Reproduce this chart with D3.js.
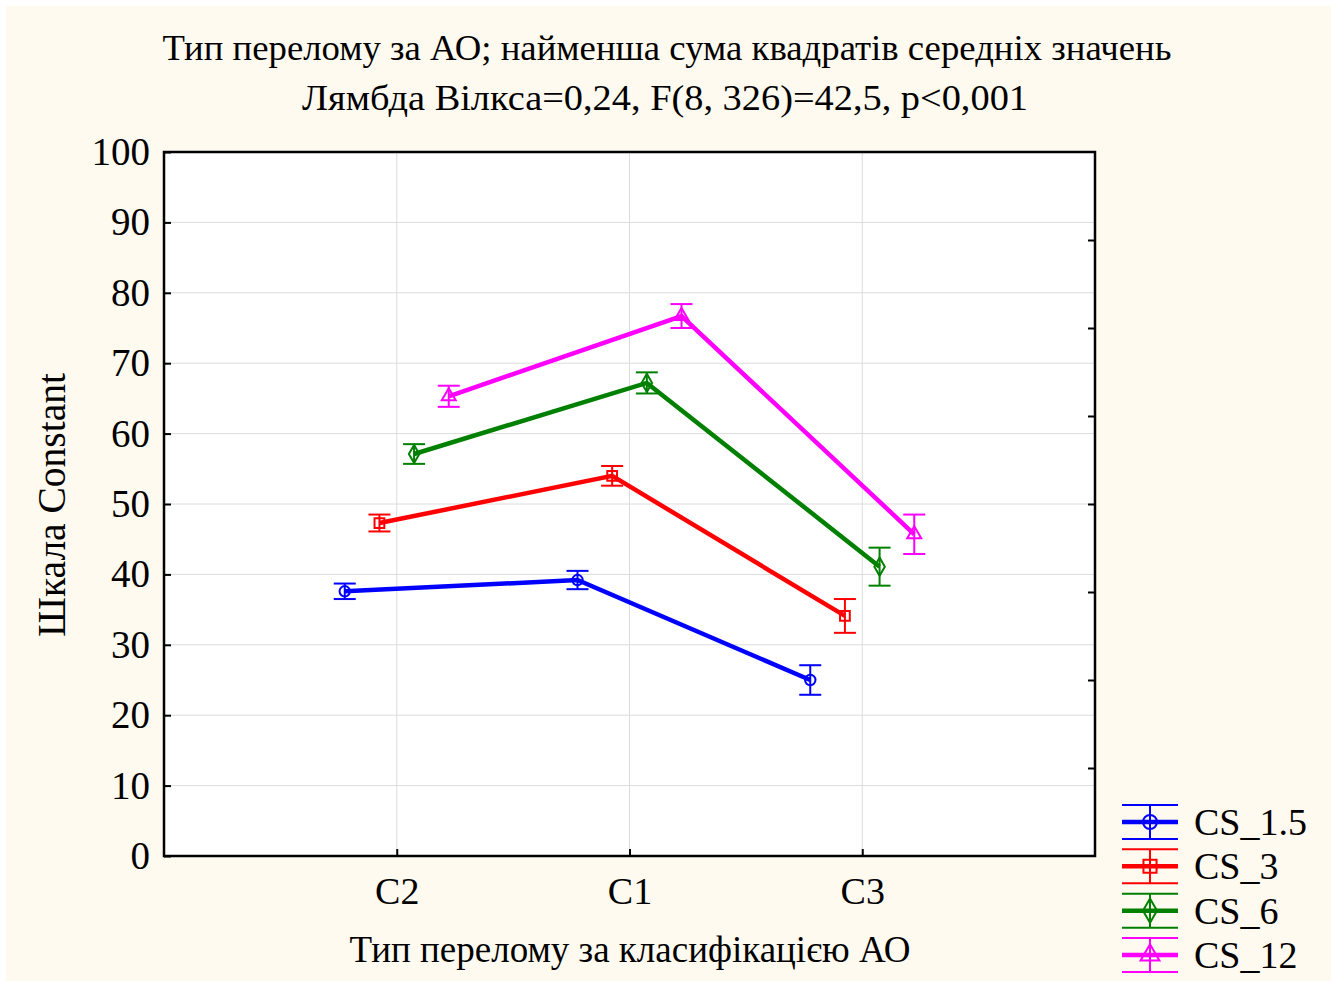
<!DOCTYPE html>
<html><head><meta charset="utf-8">
<script src="https://cdn.jsdelivr.net/npm/d3@7"></script>
<style>body{margin:0;background:#fff}svg{display:block}</style>
</head><body>
<script>
const categories = ["C2", "C1", "C3"];
const seriesNames = ["CS_1.5", "CS_3", "CS_6", "CS_12"];
const seriesColors = ["#0000ff", "#ff0000", "#008000", "#ff00ff"];
const seriesSymbols = ["circle", "square", "diamond", "triangle"];
const means = [
  [37.6, 39.2, 25.0],
  [47.3, 54.0, 34.1],
  [57.1, 67.2, 41.1],
  [65.3, 76.7, 45.7]
];
const errors = [
  [1.1, 1.3, 2.1],
  [1.2, 1.4, 2.4],
  [1.4, 1.5, 2.7],
  [1.5, 1.7, 2.8]
];
const yTicks = [0, 10, 20, 30, 40, 50, 60, 70, 80, 90, 100];
const rightTicks = [12.5, 25, 37.5, 50, 62.5, 75, 87.5];
const title1 = "Тип перелому за АО; найменша сума квадратів середніх значень";
const title2 = "Лямбда Вілкса=0,24, F(8, 326)=42,5, p<0,001";
const xTitle = "Тип перелому за класифікацією АО";
const yTitle = "Шкала Constant";

const W = 1331, H = 981;
const L = 164, T = 152, R = 1095, B = 856;
const font = "'Liberation Serif','Times New Roman',serif";

const svg = d3.select("body").append("svg").attr("width", W).attr("height", H);
svg.append("rect").attr("x", 6).attr("y", 6).attr("width", W - 6).attr("height", H - 6).attr("fill", "#fefaef");
svg.append("rect").attr("x", L).attr("y", T).attr("width", R - L).attr("height", B - T).attr("fill", "#fff");

const y = d3.scaleLinear().domain([0, 100]).range([B, T]);
const x = d3.scalePoint().domain(["", ...categories, " "]).range([L, R]);
const off = d3.scalePoint().domain(seriesNames).range([-52, 52]);

// grid
svg.append("g").selectAll("line").data(yTicks.slice(1, -1)).join("line")
  .attr("x1", L).attr("x2", R).attr("y1", d => y(d)).attr("y2", d => y(d))
  .attr("stroke", "#dcdcdc").attr("stroke-width", 1);
svg.append("g").selectAll("line").data(categories).join("line")
  .attr("x1", d => x(d)).attr("x2", d => x(d)).attr("y1", T).attr("y2", B)
  .attr("stroke", "#dcdcdc").attr("stroke-width", 1);

// left axis
const yAxis = d3.axisLeft(y).tickValues(yTicks).tickSize(-7).tickPadding(14).tickFormat(d3.format("d"));
const gy = svg.append("g").attr("transform", `translate(${L},0)`).call(yAxis);
gy.select(".domain").remove();
gy.selectAll(".tick line").attr("stroke", "#000").attr("stroke-width", 2);
gy.selectAll(".tick text").attr("font-family", font).attr("font-size", 39).attr("fill", "#000").attr("x", -14);

// right axis ticks
const gr = svg.append("g").attr("transform", `translate(${R},0)`)
  .call(d3.axisRight(y).tickValues(rightTicks).tickSize(-7).tickFormat(""));
gr.select(".domain").remove();
gr.selectAll(".tick line").attr("stroke", "#000").attr("stroke-width", 2);

// bottom axis
const gx = svg.append("g").attr("transform", `translate(0,${B})`)
  .call(d3.axisBottom(x).tickValues(categories).tickSize(-7).tickPadding(21));
gx.select(".domain").remove();
gx.selectAll(".tick line").attr("stroke", "#000").attr("stroke-width", 2);
gx.selectAll(".tick text").attr("font-family", font).attr("font-size", 38).attr("fill", "#000");

// frame
svg.append("rect").attr("x", L).attr("y", T).attr("width", R - L).attr("height", B - T)
  .attr("fill", "none").attr("stroke", "#000").attr("stroke-width", 2.5);

const symMap = {circle: d3.symbolCircle, square: d3.symbolSquare, diamond: d3.symbolDiamond, triangle: d3.symbolTriangle};
const symSize = {circle: 85, square: 95, diamond: 95, triangle: 85};

const line = d3.line().x(d => d.x).y(d => d.y);
seriesNames.forEach((s, i) => {
  const pts = categories.map((c, j) => ({x: x(c) + off(s), y: y(means[i][j]), m: means[i][j], e: errors[i][j]}));
  const g = svg.append("g");
  g.append("path").attr("d", line(pts)).attr("fill", "none").attr("stroke", seriesColors[i]).attr("stroke-width", 4.5).attr("stroke-linejoin", "miter");
  pts.forEach(p => {
    const y1 = y(p.m + p.e), y2 = y(p.m - p.e);
    g.append("line").attr("x1", p.x).attr("x2", p.x).attr("y1", y1).attr("y2", y2).attr("stroke", seriesColors[i]).attr("stroke-width", 2);
    [y1, y2].forEach(yy => g.append("line").attr("x1", p.x - 11).attr("x2", p.x + 11).attr("y1", yy).attr("y2", yy).attr("stroke", seriesColors[i]).attr("stroke-width", 2));
    g.append("path").attr("d", d3.symbol(symMap[seriesSymbols[i]], symSize[seriesSymbols[i]])())
      .attr("transform", `translate(${p.x},${p.y})`).attr("fill", "none").attr("stroke", seriesColors[i]).attr("stroke-width", 2);
  });
});

// titles
svg.append("text").attr("x", 667).attr("y", 60).attr("text-anchor", "middle").attr("font-family", font).attr("font-size", 36)
  .attr("textLength", 1009).attr("lengthAdjust", "spacingAndGlyphs").text(title1);
svg.append("text").attr("x", 665).attr("y", 110).attr("text-anchor", "middle").attr("font-family", font).attr("font-size", 36)
  .attr("textLength", 726).attr("lengthAdjust", "spacingAndGlyphs").text(title2);
svg.append("text").attr("x", 630).attr("y", 962).attr("text-anchor", "middle").attr("font-family", font).attr("font-size", 37).text(xTitle);
svg.append("text").attr("transform", `translate(65,505) rotate(-90)`).attr("text-anchor", "middle").attr("font-family", font).attr("font-size", 39.5).text(yTitle);

// legend
const leg = svg.append("g");
const legY = d3.scalePoint().domain(seriesNames).range([822, 955]);
seriesNames.forEach((s, i) => {
  const cy = legY(s), c = seriesColors[i];
  const gg = leg.append("g");
  gg.append("line").attr("x1", 1122).attr("x2", 1178).attr("y1", cy).attr("y2", cy).attr("stroke", c).attr("stroke-width", 4.5);
  [cy - 17, cy + 17].forEach(yy => gg.append("line").attr("x1", 1122).attr("x2", 1178).attr("y1", yy).attr("y2", yy).attr("stroke", c).attr("stroke-width", 2));
  gg.append("line").attr("x1", 1150).attr("x2", 1150).attr("y1", cy - 17).attr("y2", cy + 17).attr("stroke", c).attr("stroke-width", 2);
  gg.append("path").attr("d", d3.symbol(symMap[seriesSymbols[i]], symSize[seriesSymbols[i]] * 1.8)())
    .attr("transform", `translate(1150,${cy})`).attr("fill", "none").attr("stroke", c).attr("stroke-width", 2);
  gg.append("text").attr("x", 1194).attr("y", cy + 13).attr("font-family", font).attr("font-size", 38).text(s);
});
</script>
</body></html>
